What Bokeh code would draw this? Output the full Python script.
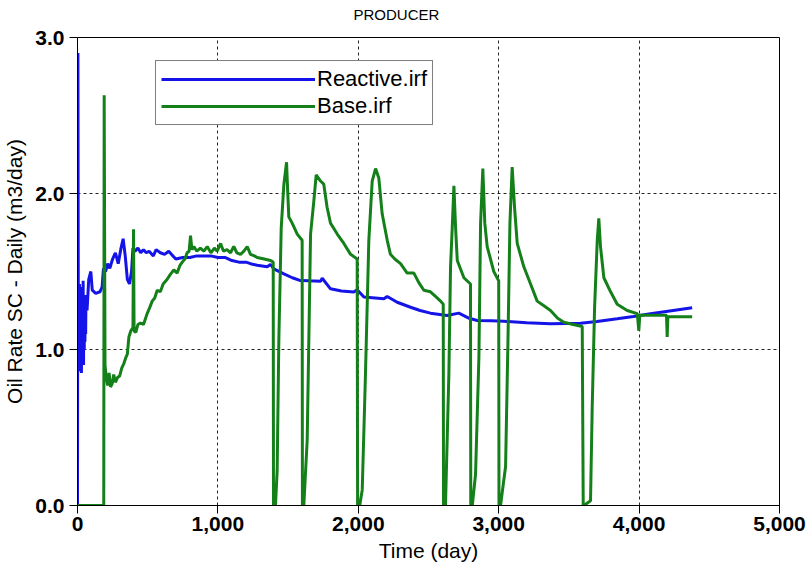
from bokeh.plotting import figure
from bokeh.models import Legend, LegendItem, NumeralTickFormatter, FixedTicker, Range1d, Title
from bokeh.embed import file_html
from bokeh.resources import INLINE

# ---------------- data ----------------
reactive_t = [0, 3, 6, 8, 10, 12, 14, 16, 18, 20, 22, 24, 26, 28, 30, 33, 35, 38, 40, 43, 45, 48, 50,
              53, 55, 58, 60, 68, 80, 95, 105, 130, 160, 175,
              185, 200, 215, 230, 250, 270, 290, 310, 325, 340, 355, 370, 385, 395, 410, 430, 450, 470,
              490, 510, 540, 560, 590, 620, 650, 680, 700, 750, 800, 850, 900, 950, 1000, 1050, 1100,
              1150, 1200, 1232, 1280, 1351, 1375, 1398, 1470, 1530, 1588, 1650, 1731, 1743, 1802, 1880,
              1968, 1992, 2040, 2120, 2182, 2206, 2277, 2372, 2440, 2514, 2633, 2716, 2790, 2847, 2950,
              3037, 3200, 3369, 3583, 3700, 3844, 3960, 4081, 4230, 4378]
reactive_y = [0.0, 2.9, 1.2, 0.9, 1.4, 0.88, 1.42, 0.95, 1.35, 0.86, 1.38, 0.9, 1.3, 0.85, 1.32, 0.95,
              1.4, 0.92, 1.44, 0.9, 1.3, 1.0, 1.25, 1.05, 1.35, 1.1, 1.3, 1.25, 1.45,
              1.5, 1.38, 1.36, 1.37, 1.4, 1.52, 1.5, 1.55, 1.52, 1.58, 1.62, 1.55, 1.65, 1.71, 1.6, 1.45,
              1.42, 1.5, 1.65, 1.63, 1.65, 1.62, 1.64, 1.62, 1.63, 1.6, 1.64, 1.62, 1.61, 1.63, 1.6, 1.58,
              1.59, 1.59, 1.6, 1.6, 1.6, 1.59, 1.59, 1.57, 1.56, 1.56, 1.55, 1.54, 1.53, 1.545, 1.517,
              1.485, 1.46, 1.442, 1.44, 1.438, 1.457, 1.389, 1.375, 1.368, 1.383, 1.336, 1.33, 1.325,
              1.34, 1.303, 1.271, 1.25, 1.233, 1.218, 1.233, 1.2, 1.186, 1.184, 1.181, 1.172, 1.165,
              1.169, 1.18, 1.197, 1.212, 1.229, 1.248, 1.267]

base_t = [0, 187, 190, 196, 205, 215, 225, 235, 247, 258, 270, 285, 300, 315, 330, 345, 355, 366, 380,
          395, 399, 403, 415, 430, 449, 470, 496, 515, 532, 550, 568, 590, 610, 639, 660, 686, 710, 730,
          746, 765, 781, 795, 805, 815, 829, 850, 875, 900, 924, 950, 975, 995, 1019, 1040, 1065, 1090,
          1113, 1135, 1161, 1185, 1209, 1232, 1260, 1280, 1330, 1375, 1394, 1396, 1410, 1422, 1434,
          1451, 1470, 1489, 1495, 1505, 1529, 1565, 1600, 1602, 1612, 1636, 1660, 1683, 1700, 1731,
          1754, 1778, 1802, 1850, 1897, 1945, 1992, 1995, 2010, 2028, 2051, 2075, 2099, 2123, 2146,
          2170, 2206, 2229, 2260, 2301, 2348, 2396, 2430, 2467, 2514, 2550, 2586, 2605, 2607, 2621,
          2645, 2657, 2669, 2681, 2693, 2705, 2752, 2799, 2801, 2812, 2835, 2859, 2871, 2887, 2901,
          2918, 2965, 3000, 3002, 3013, 3049, 3066, 3080, 3096, 3113, 3132, 3179, 3227, 3274, 3322,
          3369, 3420, 3464, 3530, 3595, 3602, 3607, 3654, 3666, 3683, 3702, 3713, 3725, 3749, 3797,
          3844, 3915, 3987, 3998, 4005, 4081, 4150, 4195, 4200, 4205, 4280, 4378]
base_y = [0.0, 0.0, 2.63, 0.9, 0.82, 0.77, 0.85, 0.76, 0.78, 0.84, 0.79, 0.82, 0.83, 0.88, 0.91, 0.95,
          0.97, 1.08, 1.12, 1.14, 1.77, 1.12, 1.11, 1.16, 1.17, 1.16, 1.23, 1.27, 1.31, 1.33, 1.38,
          1.37, 1.42, 1.45, 1.48, 1.51, 1.49, 1.54, 1.56, 1.58, 1.62, 1.63, 1.73, 1.64, 1.66, 1.63,
          1.65, 1.63, 1.66, 1.62, 1.65, 1.63, 1.68, 1.63, 1.64, 1.62, 1.66, 1.62, 1.61, 1.63, 1.66,
          1.61, 1.6, 1.59, 1.58, 1.57, 1.56, 0.0, 0.0, 0.22, 1.06, 1.78, 2.06, 2.2, 2.06, 1.85, 1.81,
          1.74, 1.7, 0.0, 0.0, 0.42, 1.74, 1.95, 2.12, 2.08, 2.06, 1.91, 1.81, 1.74, 1.68, 1.61, 1.58,
          0.0, 0.0, 0.1, 0.84, 1.7, 2.08, 2.16, 2.1, 1.87, 1.7, 1.61, 1.58, 1.55, 1.49, 1.49, 1.43,
          1.38, 1.37, 1.34, 1.31, 1.29, 0.0, 0.0, 0.84, 1.53, 1.78, 2.05, 1.78, 1.57, 1.46, 1.42, 0.0,
          0.0, 0.2, 0.95, 1.81, 2.16, 1.81, 1.66, 1.5, 1.44, 0.0, 0.0, 0.25, 1.06, 1.81, 2.17, 1.91,
          1.68, 1.53, 1.42, 1.31, 1.28, 1.25, 1.2, 1.175, 1.16, 1.147, 0.0, 0.0, 0.03, 0.63, 1.27, 1.7,
          1.84, 1.66, 1.46, 1.37, 1.29, 1.25, 1.23, 1.12, 1.22, 1.22, 1.22, 1.22, 1.08, 1.21, 1.21, 1.21]

series_names = ["Reactive.irf", "Base.irf"]
title_text = "PRODUCER"
x_ticks = [0, 1000, 2000, 3000, 4000, 5000]
y_ticks = [0, 1, 2, 3]

FONT = "Liberation Sans"
BLUE = "#1414e8"
GREEN = "#14801a"

p = figure(width=810, height=577, output_backend="svg", toolbar_location=None,
           x_range=Range1d(0, 5000), y_range=Range1d(0, 3),
           min_border_left=77, min_border_right=31, min_border_top=37, min_border_bottom=72)
p.background_fill_color = "white"
p.border_fill_color = "white"
p.outline_line_color = "black"
p.outline_line_width = 1

# spacer panel between frame and title, then the title itself (stacked further out)
spacer = Title(text=" ", text_font_size="1px", standoff=10)
p.add_layout(spacer, "above")
title = Title(text=title_text, align="left", offset=276, text_font=FONT, text_font_size="15px",
              text_font_style="normal", text_color="black", standoff=4)
p.add_layout(title, "above")

r1 = p.line(reactive_t, reactive_y, line_color=BLUE, line_width=3)
r2 = p.line(base_t, base_y, line_color=GREEN, line_width=3)

for ax in (p.xaxis, p.yaxis):
    ax.axis_line_color = "black"
    ax.major_tick_line_color = "black"
    ax.major_tick_out = 8
    ax.major_tick_in = 0
    ax.minor_tick_line_color = None
    ax.major_label_text_font = FONT
    ax.major_label_text_font_size = "21px"
    ax.major_label_text_font_style = "bold"
    ax.major_label_text_color = "black"
    ax.axis_label_text_font = FONT
    ax.axis_label_text_font_size = "21px"
    ax.axis_label_text_font_style = "normal"
    ax.axis_label_text_color = "black"

p.xaxis.ticker = FixedTicker(ticks=x_ticks)
p.yaxis.ticker = FixedTicker(ticks=y_ticks)
p.xaxis.formatter = NumeralTickFormatter(format="0,0")
p.yaxis.formatter = NumeralTickFormatter(format="0.0")
p.xaxis.axis_label = "Time (day)"
p.yaxis.axis_label = "Oil Rate SC - Daily (m3/day)"
p.xaxis.major_label_standoff = 3
p.yaxis.major_label_standoff = 5
p.xaxis.axis_label_standoff = 5
p.yaxis.axis_label_standoff = 6

for g in (p.xgrid, p.ygrid):
    g.grid_line_color = "black"
    g.grid_line_dash = "3 3"
    g.grid_line_width = 1
    g.grid_line_alpha = 0.85
p.xgrid.ticker = FixedTicker(ticks=x_ticks[1:-1])
p.ygrid.ticker = FixedTicker(ticks=y_ticks[1:-1])

legend = Legend(items=[LegendItem(label=series_names[0], renderers=[r1]),
                       LegendItem(label=series_names[1], renderers=[r2])],
                location=(78, 380), glyph_width=154, glyph_height=20, label_standoff=2,
                padding=5, spacing=1, margin=0,
                label_text_font=FONT, label_text_font_size="22px", label_text_color="black",
                border_line_color="black", border_line_width=1,
                background_fill_color="white", background_fill_alpha=1)
p.add_layout(legend, "center")

open("out.html", "w").write(file_html(p, INLINE))
